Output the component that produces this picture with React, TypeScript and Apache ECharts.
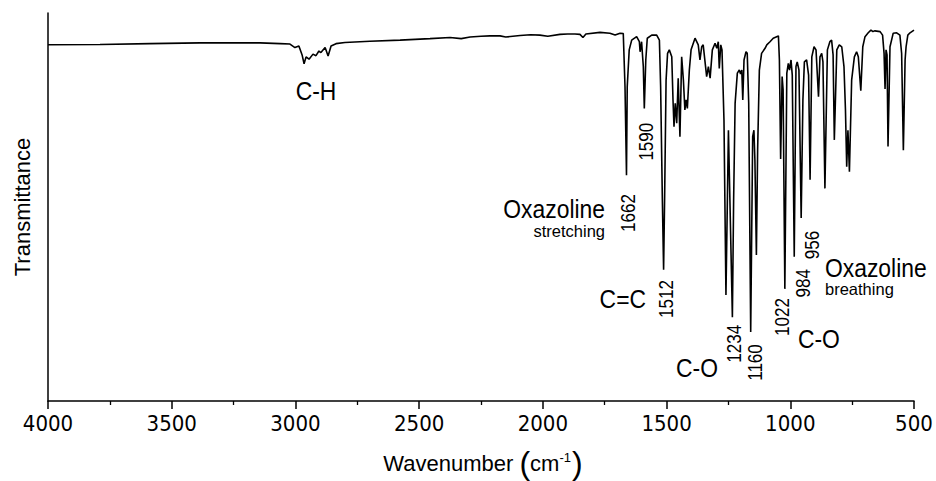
import React, { useEffect, useRef } from "react";
import * as echarts from "echarts";

// FTIR spectrum: [wavenumber (cm-1), transmittance (a.u.)]
const highRegion: number[][] = [
  [4000, 91.8], [3790, 91.9], [3588, 92.1], [3386, 92.3], [3224, 92.3], [3143, 92.3],
  [3062, 92.1], [3022, 92.0], [3002, 91.1], [2986, 91.5], [2973, 89.2], [2965, 86.9],
  [2957, 88.7], [2945, 88.1], [2929, 89.4], [2917, 89.0], [2905, 90.2], [2897, 89.8],
  [2880, 91.1], [2868, 88.9], [2856, 91.5], [2836, 92.1], [2800, 92.4], [2699, 92.7],
  [2577, 93.0], [2456, 93.4], [2375, 93.7], [2330, 93.4], [2294, 93.8], [2250, 94.0],
  [2214, 94.1], [2173, 94.1], [2150, 93.8], [2092, 94.2], [2050, 94.4], [2012, 94.3],
  [1980, 94.0], [1931, 94.5], [1900, 94.6], [1870, 94.6], [1850, 94.5], [1838, 93.7],
  [1826, 94.6], [1769, 95.0],
];

const midRegion: number[][] = [
  [1729, 94.8], [1708, 94.3], [1688, 94.8], [1675, 94.7], [1668, 81.0], [1662, 58.2],
  [1659, 81.0], [1651, 90.5], [1641, 93.0], [1621, 93.9], [1610, 92.6], [1607, 90.0],
  [1601, 92.6], [1594, 86.2], [1590, 75.4], [1584, 87.9], [1578, 93.5], [1560, 94.3],
  [1540, 94.3], [1529, 93.0], [1524, 81.0], [1517, 51.8], [1512, 33.8], [1508, 51.8],
  [1502, 82.7], [1496, 89.6], [1489, 90.5], [1479, 88.7], [1474, 77.6], [1470, 70.7],
  [1465, 76.7], [1459, 71.6], [1453, 83.2], [1446, 68.1], [1439, 88.7], [1432, 82.7],
  [1426, 75.0], [1421, 77.6], [1416, 75.4], [1408, 85.3], [1401, 90.5], [1385, 93.5],
  [1372, 91.8], [1365, 87.9], [1358, 91.3], [1352, 91.8], [1338, 83.6], [1331, 86.2],
  [1324, 83.2], [1315, 90.5], [1304, 92.2],
];

const lowRegion: number[][] = [
  [1297, 90.9], [1291, 92.6], [1287, 85.7], [1281, 91.8], [1276, 90.5], [1268, 72.4],
  [1260, 27.3], [1250, 69.8], [1234, 21.6], [1229, 51.8], [1223, 76.7], [1214, 84.5],
  [1206, 85.3], [1201, 84.3], [1196, 85.3], [1192, 77.6], [1187, 87.9], [1179, 90.0],
  [1174, 89.6], [1168, 76.7], [1160, 17.8], [1152, 68.1], [1147, 69.8], [1143, 62.1],
  [1137, 37.6], [1132, 64.7], [1125, 85.3], [1116, 89.6], [1102, 90.9], [1095, 91.8],
  [1082, 92.6], [1069, 93.5], [1055, 93.9], [1048, 94.1], [1044, 87.9], [1039, 62.4],
  [1033, 83.6], [1029, 80.2], [1022, 28.9], [1014, 84.5], [1008, 87.0], [1003, 85.3],
  [997, 87.9], [992, 84.0], [984, 37.2], [977, 86.2], [972, 87.4], [965, 85.3],
  [956, 47.2], [949, 77.6], [943, 87.4], [934, 87.9], [926, 84.0], [920, 57.0],
  [913, 88.7], [904, 91.3], [896, 90.5], [886, 78.4], [880, 88.7], [873, 89.6],
  [868, 87.4], [860, 54.8], [850, 90.5], [840, 92.6], [833, 93.0], [827, 89.2],
  [822, 67.3], [812, 90.5], [802, 91.8], [792, 91.3], [783, 86.2], [777, 75.0],
  [772, 60.4], [767, 69.8], [761, 59.1], [752, 82.7], [741, 88.7], [732, 90.0],
  [725, 88.7], [715, 80.0], [707, 91.3], [698, 93.9], [685, 94.9], [674, 95.6],
  [666, 95.2], [658, 95.4], [637, 95.2], [627, 94.3], [621, 89.6], [617, 80.4],
  [613, 90.5], [609, 89.2], [605, 65.6], [597, 91.3], [584, 94.8], [570, 94.9],
  [557, 94.3], [550, 89.6], [543, 64.6], [536, 87.9], [532, 91.3], [525, 94.3],
  [516, 94.9], [500, 95.6],
];

const xTicks = { min: 500, max: 4000, step: 500 };
const peakLabels = ["1662", "1590", "1512", "1234", "1160", "1022", "984", "956"];
const groupLabels = ["C-H", "Oxazoline", "C=C", "C-O", "C-O", "Oxazoline"];
const subLabels = ["stretching", "breathing"];

const FONT = "'Liberation Sans', Arial, sans-serif";
const NARROW = "'Liberation Sans Narrow', 'Arial Narrow', 'DejaVu Sans Condensed', sans-serif";

function bigText(text: string, x: number, y: number, align: string) {
  return {
    type: "text", x, y, scaleX: 0.88, silent: true,
    style: { text, fontSize: 26, fontFamily: FONT, fill: "#000", align, verticalAlign: "middle" },
  };
}
function smallText(text: string, x: number, y: number, align: string) {
  return {
    type: "text", x, y, silent: true,
    style: { text, fontSize: 16.5, fontFamily: FONT, fill: "#000", align, verticalAlign: "middle" },
  };
}
function numText(text: string, x: number, y: number) {
  return {
    type: "text", x, y, scaleX: 0.81, rotation: Math.PI / 2, silent: true,
    style: { text, fontSize: 21, fontFamily: FONT, fill: "#000", align: "center", verticalAlign: "middle" },
  };
}

export default function App() {
  const ref = useRef<HTMLDivElement>(null);
  useEffect(() => {
    if (!ref.current) return;
    const chart = echarts.init(ref.current, null, { renderer: "svg" });
    const data = [...highRegion, ...midRegion, ...lowRegion];
    const numPos = [
      [627.5, 213], [645.8, 141.7], [665.8, 299], [733.7, 343.8],
      [754.5, 362.5], [782, 317], [803, 283.3], [811.7, 245],
    ];
    const graphics: any[] = [
      bigText(groupLabels[0], 316, 91, "center"),
      bigText(groupLabels[1], 605, 209, "right"),
      bigText(groupLabels[2], 646, 299, "right"),
      bigText(groupLabels[3], 718, 368, "right"),
      bigText(groupLabels[4], 798, 339, "left"),
      bigText(groupLabels[5], 825, 268, "left"),
      smallText(subLabels[0], 605, 230.5, "right"),
      smallText(subLabels[1], 825, 289, "left"),
      ...peakLabels.map((t, i) => numText(t, numPos[i][0], numPos[i][1])),
      {
        type: "text", x: 22, y: 207, rotation: Math.PI / 2, silent: true,
        style: { text: "Transmittance", fontSize: 22, fontFamily: FONT, fill: "#000", align: "center", verticalAlign: "middle" },
      },
      {
        type: "text", x: 483, y: 463, silent: true,
        style: {
          text: "{n|Wavenumber }{p|(}{n|cm}{s|-1}{p|)}",
          align: "center", verticalAlign: "middle",
          rich: {
            n: { fontSize: 22, fontFamily: FONT, fill: "#000", lineHeight: 34, verticalAlign: "middle" },
            p: { fontSize: 32, fontFamily: FONT, fill: "#000", lineHeight: 34, verticalAlign: "middle" },
            s: { fontSize: 13, fontFamily: FONT, fill: "#000", lineHeight: 34, verticalAlign: "top", padding: [5, 1, 0, 0] },
          },
        },
      },
    ];
    chart.setOption({
      animation: false,
      backgroundColor: "#fff",
      grid: { left: 48, right: 22, top: 13, bottom: 80 },
      xAxis: {
        type: "value", inverse: true,
        min: xTicks.min, max: xTicks.max, interval: xTicks.step,
        axisLine: { show: true, lineStyle: { color: "#000", width: 1.5 } },
        axisTick: { show: true, inside: false, length: 8, lineStyle: { color: "#000", width: 1.5 } },
        minorTick: { show: true, splitNumber: 2, length: 4, lineStyle: { color: "#000", width: 1.3 } },
        axisLabel: {
          color: "#000", fontSize: 22, fontFamily: NARROW, margin: 11,
          formatter: (v: number) => String(v),
        },
        splitLine: { show: false },
        minorSplitLine: { show: false },
      },
      yAxis: {
        type: "value", min: 0, max: 100,
        axisLine: { show: true, lineStyle: { color: "#000", width: 1.5 } },
        axisTick: { show: false },
        axisLabel: { show: false },
        splitLine: { show: false },
      },
      series: [
        {
          type: "line", data, showSymbol: false, symbol: "none", silent: true,
          lineStyle: { color: "#000", width: 1.6 },
        },
      ],
      graphic: graphics,
    });
    return () => chart.dispose();
  }, []);
  return <div ref={ref} style={{ position: "fixed", left: 0, top: 0, width: 936, height: 481 }} />;
}
